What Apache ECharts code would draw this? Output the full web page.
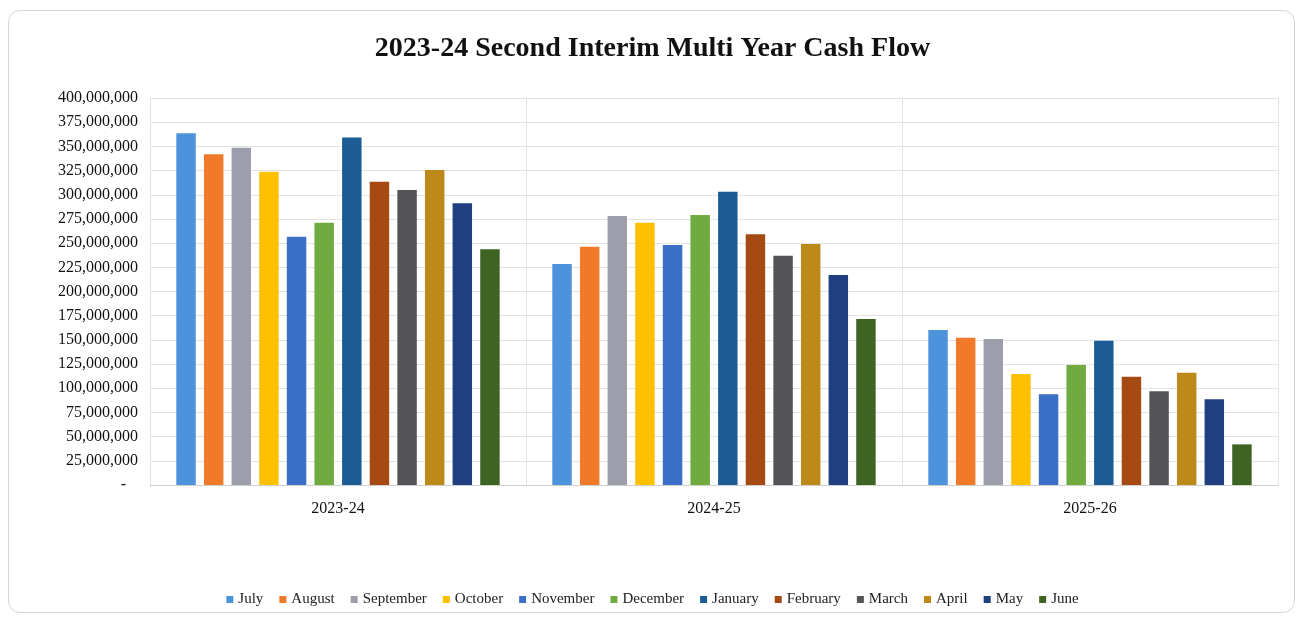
<!DOCTYPE html>
<html>
<head>
<meta charset="utf-8">
<script src="https://cdn.jsdelivr.net/npm/echarts@6/dist/echarts.min.js"></script>
<style>
  html, body { margin: 0; padding: 0; background: #ffffff; }
  #frame { position: absolute; left: 8px; top: 10px; width: 1287px; height: 603px; border: 1px solid #d6d6d6; border-radius: 12px; box-sizing: border-box; }
  #chart { position: absolute; left: 0; top: 0; width: 1305px; height: 620px; }
</style>
</head>
<body>
<div id="frame"></div>
<div id="chart"></div>
<script>
const titleText = '2023-24 Second Interim Multi Year Cash Flow';
const years = ['2023-24', '2024-25', '2025-26'];
const months = ['July', 'August', 'September', 'October', 'November', 'December', 'January', 'February', 'March', 'April', 'May', 'June'];
const monthColors = ['#4d93dc', '#f07a2a', '#9c9eab', '#ffc000', '#3c6fc8', '#6fab3e', '#1d5b96', '#a44a12', '#545459', '#bd8a1a', '#1f3f80', '#3e6424'];

// values per month, one entry per year (2023-24, 2024-25, 2025-26)
const july      = [363500000, 228400000, 160200000];
const august    = [341800000, 246300000, 152300000];
const september = [348700000, 278000000, 150900000];
const october   = [323800000, 271100000, 114700000];
const november  = [256700000, 248000000,  93700000];
const december  = [271100000, 279000000, 124000000];
const january   = [359300000, 303200000, 149200000];
const february  = [313500000, 259100000, 112000000];
const march     = [304800000, 237000000,  96800000];
const april     = [325600000, 249100000, 116100000];
const may       = [291100000, 217000000,  88600000];
const june      = [243600000, 171600000,  42000000];
const seriesValues = [july, august, september, october, november, december, january, february, march, april, may, june];

const yMin = 0, yMax = 400000000, yStep = 25000000;

const serif = '"Liberation Serif", "Times New Roman", serif';
const chart = echarts.init(document.getElementById('chart'), null, { renderer: 'canvas' });

chart.setOption({
  backgroundColor: 'transparent',
  animation: false,
  title: {
    text: titleText,
    left: 'center',
    top: 30,
    textStyle: { fontFamily: serif, fontWeight: 'bold', fontSize: 28, color: '#111' }
  },
  legend: {
    data: months,
    bottom: 8,
    left: 'center',
    icon: 'rect',
    itemWidth: 7,
    itemHeight: 7,
    itemGap: 16,
    textStyle: { fontFamily: serif, fontSize: 15, color: '#222' }
  },
  grid: { left: 150, right: 27, top: 98, bottom: 135 },
  xAxis: {
    type: 'category',
    data: years,
    axisLine: { show: true, lineStyle: { color: '#cfcfcf' } },
    axisTick: { show: false },
    splitLine: { show: true, lineStyle: { color: '#e3e3e3' } },
    axisLabel: { fontFamily: serif, fontSize: 16, color: '#111', margin: 16 }
  },
  yAxis: {
    type: 'value',
    min: yMin,
    max: yMax,
    interval: yStep,
    axisLine: { show: true, lineStyle: { color: '#e0e0e0' } },
    axisTick: { show: false },
    splitLine: { lineStyle: { color: '#e3e3e3' } },
    axisLabel: {
      fontFamily: serif, fontSize: 16, color: '#111', margin: 12,
      formatter: v => v === 0 ? '-   ' : v.toLocaleString('en-US')
    }
  },
  series: months.map((m, i) => ({
    name: m,
    type: 'bar',
    data: seriesValues[i],
    barGap: '42%',
    barCategoryGap: '14%',
    itemStyle: { color: monthColors[i] }
  })),
  color: monthColors
});
</script>
</body>
</html>
